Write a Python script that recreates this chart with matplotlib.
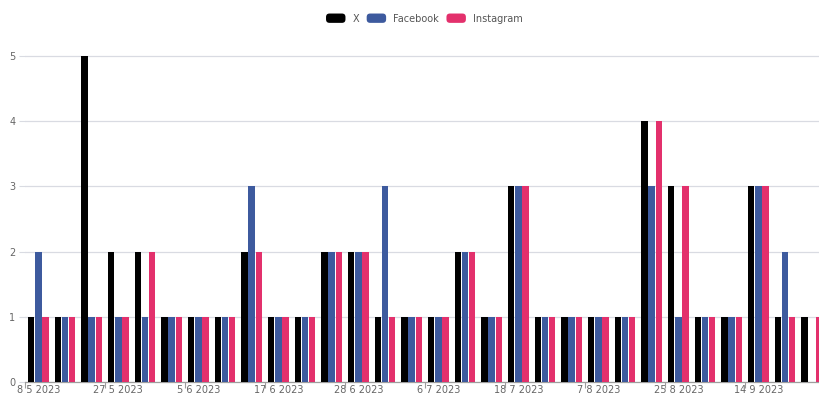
import matplotlib
matplotlib.use("Agg")
import matplotlib.pyplot as plt
from matplotlib.patches import Patch, FancyBboxPatch
from matplotlib.legend_handler import HandlerPatch
import numpy as np

# ---- data ----
series_names = ["X", "Facebook", "Instagram"]
x_values = [1, 1, 5, 2, 2, 1, 1, 1, 2, 1, 1, 2, 2, 1, 1,
            1, 2, 1, 3, 1, 1, 1, 1, 4, 3, 1, 1, 3, 1, 1]
facebook_values = [2, 1, 1, 1, 1, 1, 1, 1, 3, 1, 1, 2, 2, 3, 1,
                   1, 2, 1, 3, 1, 1, 1, 1, 3, 1, 1, 1, 3, 2, 0]
instagram_values = [1, 1, 1, 1, 2, 1, 1, 1, 2, 1, 1, 2, 2, 1, 1,
                    1, 2, 1, 3, 1, 1, 1, 1, 4, 3, 1, 1, 3, 1, 1]
tick_labels = ["8 5 2023", "", "", "27 5 2023", "", "", "5 6 2023", "", "",
               "17 6 2023", "", "", "28 6 2023", "", "", "6 7 2023", "", "",
               "18 7 2023", "", "", "7 8 2023", "", "", "25 8 2023", "", "",
               "14 9 2023", "", ""]
colors = ["#000000", "#3d5a9e", "#e3306c"]

W, H = 819, 394
fig = plt.figure(figsize=(W / 100, H / 100), dpi=100)
left_px, bottom_px, top_px = 25, 382, 56
ymax = 5.03
ax_h = (bottom_px - top_px) / H * ymax / 5
ax = fig.add_axes([left_px / W, (H - bottom_px) / H, 1 - left_px / W, ax_h])

n = len(x_values)
idx = np.arange(n)
slot = 0.8 / 3
bw = slot * 0.9
all_series = [x_values, facebook_values, instagram_values]
for k, (vals, col) in enumerate(zip(all_series, colors)):
    ax.bar(idx + (k - 1) * slot, vals, width=bw, color=col, zorder=3,
           linewidth=0)

ax.set_xlim(-0.5, -0.5 + (W - left_px) / (80 / 3))
ax.set_ylim(0, ymax)
ax.set_yticks(range(0, 6))
ax.grid(axis="y", color="#d9dbe2", linewidth=0.9, zorder=0)
ax.tick_params(axis="y", length=4, color="#d9dbe2", labelsize=7,
               labelcolor="#666666", pad=3)

ax.set_xticks(idx)
ax.set_xticklabels(tick_labels)
ax.tick_params(axis="x", which="major", length=0, labelsize=7,
               labelcolor="#666666", pad=2)
ax.set_xticks(np.arange(0, n, 3) - 0.5, minor=True)
ax.tick_params(axis="x", which="minor", length=4, color="#9e9e9e", width=0.8)

for s in ["top", "right", "left"]:
    ax.spines[s].set_visible(False)
ax.spines["bottom"].set_color("#9e9e9e")
ax.spines["bottom"].set_linewidth(0.9)


class RoundHandler(HandlerPatch):
    def create_artists(self, legend, orig_handle, xdescent, ydescent,
                       width, height, fontsize, trans):
        p = FancyBboxPatch((-xdescent, -ydescent), width, height,
                           boxstyle="round,pad=0,rounding_size=2.5",
                           facecolor=orig_handle.get_facecolor(),
                           edgecolor="none", transform=trans)
        return [p]


handles = [Patch(facecolor=c, edgecolor="none") for c in colors]
fig.legend(handles, series_names, loc="center", bbox_to_anchor=(0.518, 1 - 18.5 / H),
           ncol=3, frameon=False, fontsize=7, handlelength=2.0, handleheight=1.1,
           handletextpad=0.7, columnspacing=0.8, labelcolor="#555555",
           handler_map={Patch: RoundHandler()})

fig.savefig("out.png", dpi=100)
